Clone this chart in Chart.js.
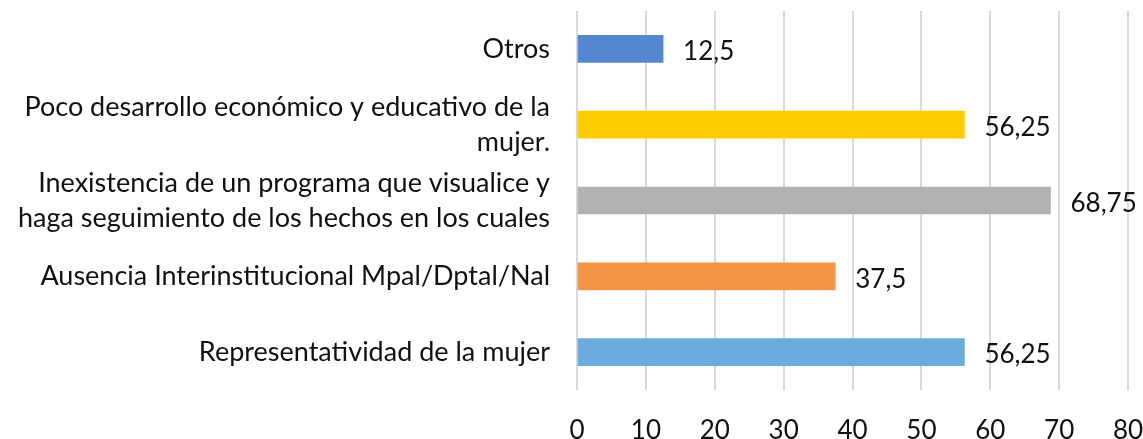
<!DOCTYPE html>
<html>
<head>
<meta charset="utf-8">
<script src="https://cdn.jsdelivr.net/npm/chart.js@4/dist/chart.umd.min.js"></script>
<style>
  html, body { margin: 0; padding: 0; background: #fff; }
  #box { width: 1143px; height: 439px; }
</style>
</head>
<body>
<div id="box"><canvas id="chart"></canvas></div>
<script>
"use strict"

const categories = [
  "Otros",
  ["Poco desarrollo económico y educativo de la", "mujer."],
  ["Inexistencia de un programa que visualice y", "haga seguimiento de los hechos en los cuales"],
  "Ausencia Interinstitucional Mpal/Dptal/Nal",
  "Representatividad de la mujer"
];
const values = [12.5, 56.25, 68.75, 37.5, 56.25];
const barColors = ["#5387D1", "#FFCC00", "#B2B2B2", "#F39646", "#6CACDC"];
const xTicks = [0, 10, 20, 30, 40, 50, 60, 70, 80];

const fontFamily = "Lato, 'Open Sans', sans-serif";

// draws the value after each bar, with a comma as decimal mark
const valueLabels = {
  id: 'valueLabels',
  afterDatasetsDraw(chart) {
    const ctx = chart.ctx;
    const meta = chart.getDatasetMeta(0);
    ctx.save();
    ctx.font = `26px ${fontFamily}`;
    ctx.fillStyle = '#111';
    ctx.textAlign = 'left';
    ctx.textBaseline = 'middle';
    meta.data.forEach((bar, i) => {
      let txt = String(values[i]).replace('.', ',');
      ctx.fillText(txt, bar.x + 20, bar.y + 3);
    });
    ctx.restore();
  }
};

new Chart('chart', {
  type: 'bar',
  data: {
    labels: categories,
    datasets: [{
      data: values,
      backgroundColor: barColors,
      barThickness: 27
    }]
  },
  options: {
    indexAxis: 'y',
    responsive: true,
    maintainAspectRatio: false,
    animation: false,
    layout: { padding: { top: 11, right: 15, left: 0, bottom: 0 } },
    plugins: {
      legend: { display: false },
      tooltip: { enabled: false }
    },
    scales: {
      x: {
        min: 0,
        max: 80,
        afterBuildTicks: (scale) => { scale.ticks = xTicks.map(v => ({ value: v })); },
        afterFit: (scale) => {
          scale.height = 49;
          scale.paddingLeft = 0;
          scale.paddingRight = 0;
        },
        grid: { color: '#D9D9D9', lineWidth: 2, drawTicks: false },
        border: { display: false },
        ticks: {
          padding: 25,
          color: '#111',
          font: { family: fontFamily, size: 26 }
        }
      },
      y: {
        grid: { display: false, drawTicks: false },
        border: { display: false },
        afterFit: (scale) => {
          scale.width = 577;
          scale.paddingTop = 0;
          scale.paddingBottom = 0;
        },
        ticks: {
          autoSkip: false,
          padding: 27,
          color: '#111',
          font: { family: fontFamily, size: 27, lineHeight: 1.3 }
        }
      }
    }
  },
  plugins: [valueLabels]
});
</script>
</body>
</html>
